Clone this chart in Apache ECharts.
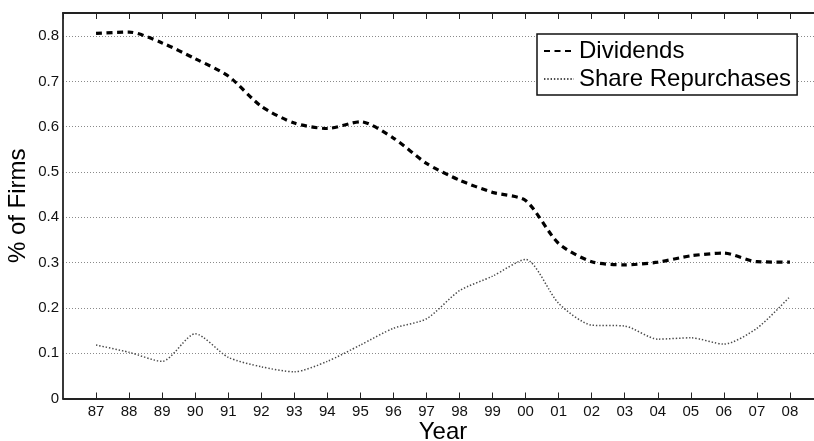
<!DOCTYPE html>
<html>
<head>
<meta charset="utf-8">
<script src="https://cdn.jsdelivr.net/npm/echarts@6/dist/echarts.min.js"></script>
<style>
  html, body { margin: 0; padding: 0; background: #fff; }
  #chart { width: 814px; height: 441px; }
</style>
</head>
<body>
<div id="chart"></div>
<script>
// Two-digit year labels, 1987 through 2008
const years = ['87','88','89','90','91','92','93','94','95','96','97','98','99','00','01','02','03','04','05','06','07','08'];

// Share of firms paying dividends
const dividends = [0.806, 0.809, 0.785, 0.750, 0.712, 0.645, 0.608, 0.596, 0.611, 0.575, 0.519, 0.482, 0.455, 0.437, 0.342, 0.302, 0.295, 0.301, 0.315, 0.321, 0.302, 0.301];

// Share of firms repurchasing shares
const repurchases = [0.118, 0.102, 0.082, 0.143, 0.091, 0.070, 0.059, 0.082, 0.118, 0.155, 0.176, 0.238, 0.270, 0.307, 0.210, 0.162, 0.160, 0.131, 0.134, 0.120, 0.155, 0.225];

const yTicks = [0, 0.1, 0.2, 0.3, 0.4, 0.5, 0.6, 0.7, 0.8];

const FONT = 'Liberation Sans, Arial, Helvetica, sans-serif';

// position 0 is the left axis edge (1986); years sit at 1..22
const toPoints = arr => arr.map((v, i) => [i + 1, v]);

const chart = echarts.init(document.getElementById('chart'), null, { renderer: 'canvas' });

const xBase = {
  type: 'value',
  min: 0,
  max: 23,
  interval: 1,
  axisLine: { show: true, onZero: false, lineStyle: { color: '#222', width: 1.8 } },
  axisTick: { show: true, inside: true, length: 6, lineStyle: { color: '#222', width: 1 } },
  splitLine: { show: false }
};

chart.setOption({
  animation: false,
  backgroundColor: '#fff',
  // the plot box runs past the right edge of the canvas, so keep the layout fixed
  grid: { left: 63, top: 13, width: 760, height: 385.5, outerBoundsMode: 'none', containLabel: false },
  legend: {
    orient: 'vertical',
    left: 537,
    top: 34,
    align: 'left',
    backgroundColor: '#fff',
    borderColor: '#111',
    borderWidth: 1.5,
    borderRadius: 0,
    padding: [5, 6, 4, 6],
    itemWidth: 30,
    itemHeight: 24,
    itemGap: 4,
    itemStyle: { opacity: 0 },
    textStyle: { fontFamily: FONT, fontSize: 24, color: '#000' },
    data: ['Dividends', 'Share Repurchases']
  },
  xAxis: [
    Object.assign({}, xBase, {
      position: 'bottom',
      name: 'Year',
      nameLocation: 'middle',
      nameGap: 22,
      nameMoveOverlap: false,
      nameTextStyle: { fontFamily: FONT, fontSize: 24, color: '#000' },
      axisLabel: {
        margin: 6,
        fontFamily: FONT,
        fontSize: 15,
        color: '#111',
        showMinLabel: false,
        showMaxLabel: false,
        formatter: v => (v >= 1 && v <= years.length) ? years[v - 1] : ''
      }
    }),
    Object.assign({}, xBase, {
      position: 'top',
      axisLabel: { show: false }
    })
  ],
  yAxis: {
    type: 'value',
    min: 0,
    max: 0.851,
    interval: 0.1,
    name: '% of Firms',
    nameLocation: 'middle',
    nameRotate: 90,
    nameGap: 33,
    nameMoveOverlap: false,
    nameTextStyle: { fontFamily: FONT, fontSize: 24, color: '#000' },
    axisLine: { show: true, lineStyle: { color: '#222', width: 1.8 } },
    axisTick: { show: false },
    axisLabel: {
      margin: 4,
      fontFamily: FONT,
      fontSize: 15,
      color: '#111',
      showMaxLabel: false,
      formatter: v => {
        const t = yTicks.find(k => Math.abs(k - v) < 1e-6);
        if (t === undefined) return '';
        return t === 0 ? '0' : t.toFixed(1);
      }
    },
    splitLine: { show: true, lineStyle: { color: '#8a8a8a', width: 1, type: [1, 2] } }
  },
  series: [
    {
      name: 'Dividends',
      type: 'line',
      data: toPoints(dividends),
      smooth: 0.25,
      symbol: 'none',
      lineStyle: { color: '#000', width: 3.2, type: [6, 4.5] },
      itemStyle: { color: '#000' },
      z: 3
    },
    {
      name: 'Share Repurchases',
      type: 'line',
      data: toPoints(repurchases),
      smooth: 0.25,
      symbol: 'none',
      lineStyle: { color: '#4a4a4a', width: 1.5, type: [1.4, 1.9] },
      itemStyle: { color: '#4a4a4a' },
      z: 2
    }
  ]
});
</script>
</body>
</html>
